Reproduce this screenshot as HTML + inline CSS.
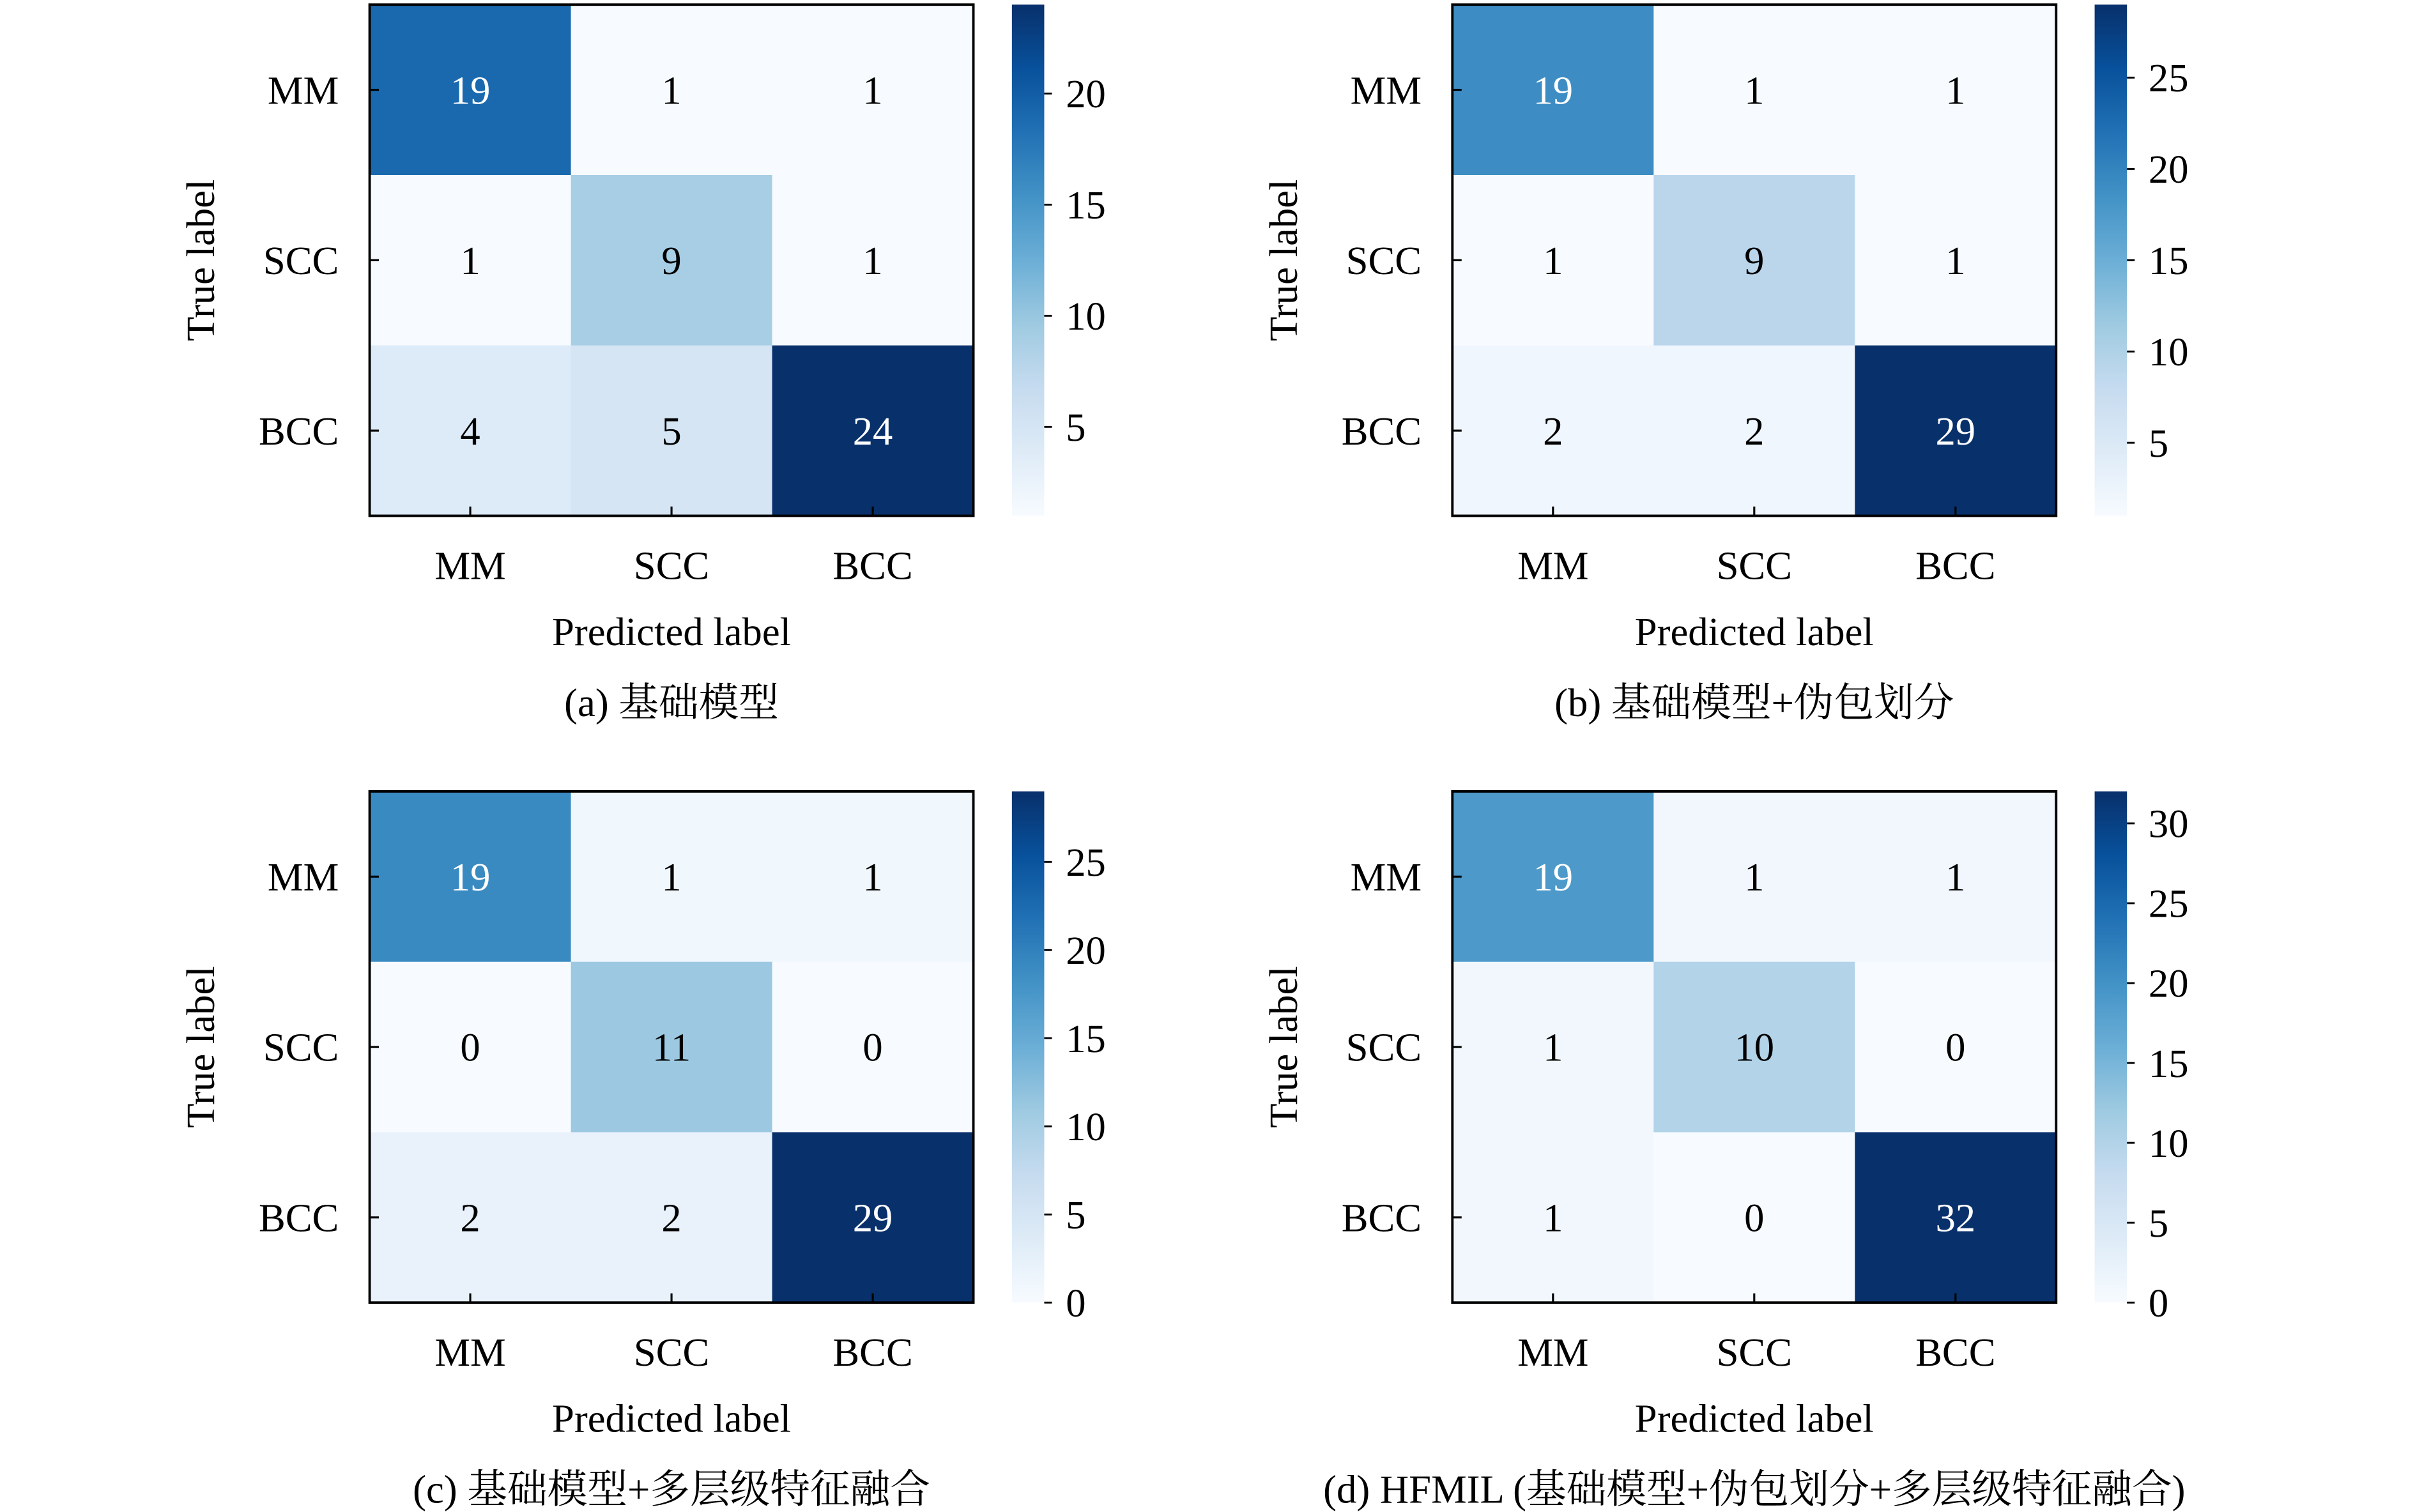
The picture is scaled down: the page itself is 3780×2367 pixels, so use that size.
<!DOCTYPE html>
<html><head><meta charset="utf-8"><style>
html,body{margin:0;padding:0;background:#fff;}
svg{display:block;}
text{font-family:"Liberation Serif","Noto Serif CJK SC","Noto Sans CJK SC",serif;fill:#000;}
</style></head><body>
<svg id="fig" width="3780" height="2367" viewBox="0 0 1568 982" preserveAspectRatio="none" xmlns="http://www.w3.org/2000/svg">
<defs>
<linearGradient id="blues" x1="0" y1="1" x2="0" y2="0">
<stop offset="0" stop-color="#f7fbff"/><stop offset="0.125" stop-color="#deebf7"/><stop offset="0.25" stop-color="#c6dbef"/><stop offset="0.375" stop-color="#9ecae1"/><stop offset="0.5" stop-color="#6baed6"/><stop offset="0.625" stop-color="#4292c6"/><stop offset="0.75" stop-color="#2171b5"/><stop offset="0.875" stop-color="#08519c"/><stop offset="1" stop-color="#08306b"/>
</linearGradient>
</defs>
</svg>
<script>
const classLabels = ["MM","SCC","BCC"];
const matrixA = [[19,1,1],[1,9,1],[4,5,24]];
const matrixB = [[19,1,1],[1,9,1],[2,2,29]];
const matrixC = [[19,1,1],[0,11,0],[2,2,29]];
const matrixD = [[19,1,1],[1,10,0],[1,0,32]];
const colorbarTicksA = [5,10,15,20];
const colorbarTicksB = [5,10,15,20,25];
const colorbarTicksC = [0,5,10,15,20,25];
const colorbarTicksD = [0,5,10,15,20,25,30];
const captions = ["(a) 基础模型","(b) 基础模型+伪包划分","(c) 基础模型+多层级特征融合","(d) HFMIL (基础模型+伪包划分+多层级特征融合)"];

const NS = "http://www.w3.org/2000/svg";
const svg = document.getElementById('fig');
const stops = [[247,251,255],[222,235,247],[198,219,239],[158,202,225],[107,174,214],[66,146,198],[33,113,181],[8,81,156],[8,48,107]];
function blues(t){t=Math.max(0,Math.min(1,t));const p=t*8,i=Math.min(7,Math.floor(p)),f=p-i;const a=stops[i],b=stops[i+1];return `rgb(${a.map((v,k)=>Math.round(v+(b[k]-v)*f)).join(',')})`;}
function el(tag,attrs,parent){const e=document.createElementNS(NS,tag);for(const k in attrs)e.setAttribute(k,attrs[k]);(parent||svg).appendChild(e);return e;}

function panel(ox,oy,matrix,cbTicks,caption,key){
  const g=el('g',{});
  
  
  const L=240+ox,T=3+oy,W=392,H=332,cw=W/3,ch=H/3;
  const flat=matrix.flat();const vmin=Math.min(...flat),vmax=Math.max(...flat);
  const norm=v=>(v-vmin)/(vmax-vmin);
  matrix.forEach((row,r)=>row.forEach((v,c)=>{
    const rc=el('rect',{x:L+c*cw,y:T+r*ch,width:cw+0.5,height:ch+0.5,fill:blues(norm(v))},g);
    
    
    const tx=el('text',{x:L+(c+0.5)*cw,y:T+(r+0.5)*ch+9,'text-anchor':'middle','font-size':26},g);
    
    
    tx.style.fill=norm(v)>0.5?'#fff':'#000';
    tx.textContent=v;
  }));
  const fr=el('rect',{x:L,y:T,width:W,height:H,fill:'none',stroke:'#000','stroke-width':1.6},g);
  
  
  classLabels.forEach((lab,i)=>{
    el('line',{x1:L,x2:L+6,y1:T+(i+0.5)*ch,y2:T+(i+0.5)*ch,stroke:'#000','stroke-width':1.3},g);
    el('line',{x1:L+(i+0.5)*cw,x2:L+(i+0.5)*cw,y1:T+H,y2:T+H-6,stroke:'#000','stroke-width':1.3},g);
    const yl=el('text',{x:L-20,y:T+(i+0.5)*ch+9,'text-anchor':'end','font-size':26},g);
    
    
    yl.textContent=lab;
    const xl=el('text',{x:L+(i+0.5)*cw,y:T+H+41,'text-anchor':'middle','font-size':26},g);
    
    
    xl.textContent=lab;
  });
  const yt=el('text',{x:0,y:0,'text-anchor':'middle','font-size':26,transform:`translate(${L-101},${T+H/2}) rotate(-90)`},g);
  
  
  yt.textContent='True label';
  const xt=el('text',{x:L+W/2,y:T+H+84,'text-anchor':'middle','font-size':26},g);
  
  
  xt.textContent='Predicted label';
  const cp=el('text',{x:L+W/2,y:T+H+130,'text-anchor':'middle','font-size':26},g);
  
  
  cp.textContent=caption;
  const cbx=657+ox,cbw=21;
  const cb=el('rect',{x:cbx,y:T,width:cbw,height:H,fill:'url(#blues)'},g);
  
  
  cbTicks.forEach(t=>{
    const y=T+H-norm(t)*H;
    el('line',{x1:cbx+cbw,x2:cbx+cbw+5,y1:y,y2:y,stroke:'#000','stroke-width':1.2},g);
    const tl=el('text',{x:cbx+cbw+14,y:y+9,'font-size':26},g);
    
    
    tl.textContent=t;
  });
}
panel(0,0,matrixA,colorbarTicksA,captions[0],'a');
panel(703,0,matrixB,colorbarTicksB,captions[1],'b');
panel(0,511,matrixC,colorbarTicksC,captions[2],'c');
panel(703,511,matrixD,colorbarTicksD,captions[3],'d');
</script>
</body></html>
